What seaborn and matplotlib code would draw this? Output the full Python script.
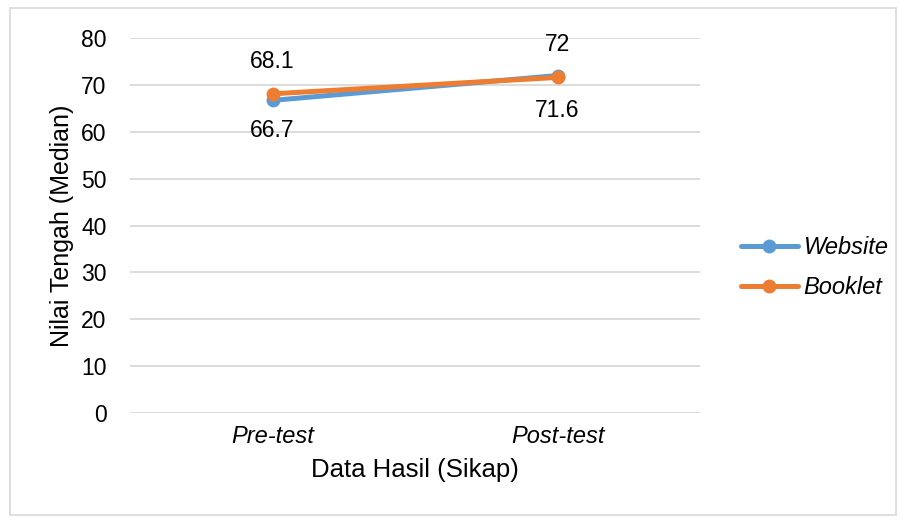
import pandas as pd
import numpy as np
import matplotlib
matplotlib.use('Agg')
import matplotlib.pyplot as plt
import seaborn as sns
from matplotlib.patches import Rectangle

# data
tahap = ['Pre-test', 'Post-test']
website = [66.7, 72]
booklet = [68.1, 71.6]

df = pd.DataFrame({
    'tahap': tahap * 2,
    'nilai': website + booklet,
    'media': ['Website'] * 2 + ['Booklet'] * 2,
})

sns.set_theme(style='white')
plt.rcParams['font.family'] = ['Liberation Sans', 'DejaVu Sans']
plt.rcParams['text.color'] = 'black'
plt.rcParams['axes.labelcolor'] = 'black'

warna = {'Website': '#5B9BD5', 'Booklet': '#ED7D31'}

fig = plt.figure(figsize=(9.01, 5.21), dpi=100)
ax = fig.add_axes([0.1443, 0.2073, 0.777 - 0.1443, 0.927 - 0.2073])

sns.lineplot(data=df, x='tahap', y='nilai', hue='media', palette=warna,
             marker='o', markersize=10, linewidth=3.6, markeredgewidth=0,
             sort=False, ax=ax)

ax.set_xlim(-0.5, 1.5)
ax.set_ylim(0, 80)
ax.set_yticks(range(0, 81, 10))
ax.yaxis.grid(True, color='#d9d9d9', linewidth=1.3)
ax.set_axisbelow(True)
for s in ax.spines.values():
    s.set_visible(False)
ax.tick_params(axis='both', length=0, labelsize=16.5, colors='black')
ax.tick_params(axis='y', pad=17)
ax.tick_params(axis='x', pad=9)
for lbl in ax.get_xticklabels():
    lbl.set_fontstyle('italic')
    lbl.set_fontsize(17)

ax.set_xlabel('Data Hasil (Sikap)', fontsize=18.5, labelpad=7)
ax.set_ylabel('Nilai Tengah (Median)', fontsize=18, labelpad=5)

# label data
fs = 16.5
ax.annotate(f'{website[0]:g}', (0, website[0]), xytext=(0, -22), textcoords='offset points',
            ha='center', va='center', fontsize=fs)
ax.annotate(f'{website[1]:g}', (1, website[1]), xytext=(0, 22), textcoords='offset points',
            ha='center', va='center', fontsize=fs)
ax.annotate(f'{booklet[0]:g}', (0, booklet[0]), xytext=(0, 23), textcoords='offset points',
            ha='center', va='center', fontsize=fs)
ax.annotate(f'{booklet[1]:g}', (1, booklet[1]), xytext=(0, -24), textcoords='offset points',
            ha='center', va='center', fontsize=fs)

leg = ax.legend(loc='center left', bbox_to_anchor=(741 / 901, 1 - 267.5 / 521),
                bbox_transform=fig.transFigure, frameon=False, borderpad=0,
                fontsize=17, handlelength=2.4, handletextpad=0.25, labelspacing=0.7,
                borderaxespad=0, title=None)
for t in leg.get_texts():
    t.set_fontstyle('italic')

fig.patches.append(Rectangle((0.011, 0.012), 0.984, 0.972, transform=fig.transFigure,
                             fill=False, edgecolor='#d9d9d9', linewidth=1.2))

fig.savefig('out.png', dpi=100)
